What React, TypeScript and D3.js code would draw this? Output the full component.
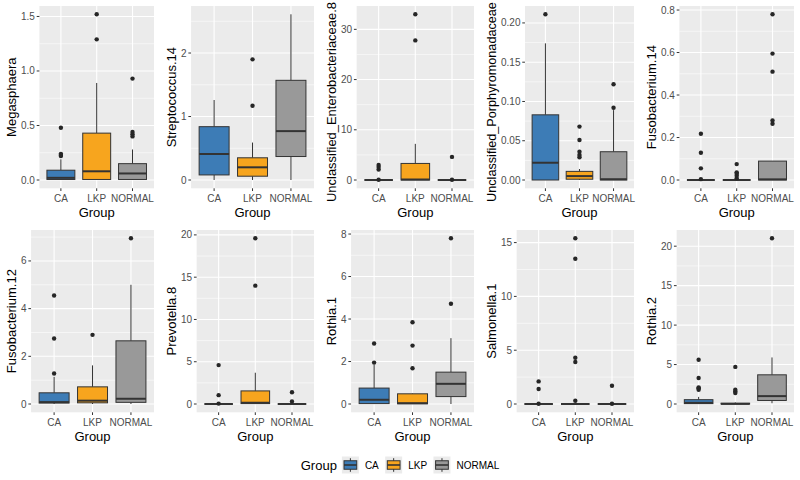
import * as d3 from "d3";

const groups = ["CA", "LKP", "NORMAL"];
const groupFills = ["#3D7CB6", "#F7A51E", "#999999"];

// each box: [lower whisker, q1, median, q3, upper whisker]
const megasphaeraBoxes = [
  [0, 0.005, 0.02, 0.09, 0.19],
  [0, 0.005, 0.08, 0.43, 0.89],
  [0, 0.005, 0.06, 0.15, 0.28],
];
const megasphaeraOutliers = [[0.22, 0.23, 0.24, 0.48], [1.29, 1.52], [0.4, 0.42, 0.44, 0.93]];
const megasphaeraTicks = ["0.0", "0.5", "1.0", "1.5"];

const streptococcusBoxes = [
  [0, 0.08, 0.41, 0.84, 1.26],
  [0, 0.06, 0.2, 0.35, 0.59],
  [0, 0.37, 0.77, 1.57, 2.61],
];
const streptococcusOutliers = [[], [1.17, 1.9], []];
const streptococcusTicks = ["0", "1", "2"];

const enterobacteriaceaeBoxes = [
  [0, 0, 0, 0, 0],
  [0, 0, 0.1, 3.3, 7.2],
  [0, 0, 0, 0, 0],
];
const enterobacteriaceaeOutliers = [[0.05, 2.1, 2.6, 3.0], [27.8, 33], [0.05, 4.6]];
const enterobacteriaceaeTicks = ["0", "10", "20", "30"];

const porphyromonadaceaeBoxes = [
  [0, 0, 0.022, 0.083, 0.174],
  [0, 0.001, 0.005, 0.011, 0.014],
  [0, 0, 0.001, 0.036, 0.089],
];
const porphyromonadaceaeOutliers = [[0.211], [0.029, 0.032, 0.036, 0.051, 0.068], [0.092, 0.122]];
const porphyromonadaceaeTicks = ["0.00", "0.05", "0.10", "0.15", "0.20"];

const fuso14Boxes = [
  [0, 0, 0, 0, 0],
  [0, 0, 0, 0, 0],
  [0, 0, 0.003, 0.089, 0.089],
];
const fuso14Outliers = [[0.004, 0.055, 0.128, 0.218], [0.008, 0.02, 0.03, 0.036, 0.075], [0.265, 0.28, 0.51, 0.595, 0.78]];
const fuso14Ticks = ["0.0", "0.2", "0.4", "0.6", "0.8"];

const fuso12Boxes = [
  [0, 0.04, 0.08, 0.47, 1.14],
  [0, 0.05, 0.14, 0.72, 1.62],
  [0, 0.07, 0.22, 2.65, 5.0],
];
const fuso12Outliers = [[1.28, 2.75, 4.55], [2.9], [6.95]];
const fuso12Ticks = ["0", "2", "4", "6"];

const prevotellaBoxes = [
  [0, 0, 0, 0, 0],
  [0, 0.05, 0.15, 1.55, 3.7],
  [0, 0, 0, 0, 0],
];
const prevotellaOutliers = [[0.05, 1.05, 4.6], [14, 19.6], [0.3, 1.4]];
const prevotellaTicks = ["0", "5", "10", "15", "20"];

const rothia1Boxes = [
  [0, 0.02, 0.2, 0.75, 1.85],
  [0, 0.01, 0.04, 0.48, 0.5],
  [0, 0.35, 0.95, 1.5, 3.1],
];
const rothia1Outliers = [[1.95, 2.85], [1.68, 2.75, 3.85], [4.72, 7.8]];
const rothia1Ticks = ["0", "2", "4", "6", "8"];

const salmonellaBoxes = [
  [0, 0, 0, 0, 0],
  [0, 0, 0, 0, 0],
  [0, 0, 0, 0, 0],
];
const salmonellaOutliers = [[0.02, 1.4, 2.1], [0.3, 3.9, 4.3, 13.5, 15.4], [0.02, 1.7]];
const salmonellaTicks = ["0", "5", "10", "15"];

const rothia2Boxes = [
  [0, 0.05, 0.15, 0.55, 0.9],
  [0, 0, 0.02, 0.1, 0.2],
  [0.1, 0.45, 1.0, 3.7, 5.9],
];
const rothia2Outliers = [[1.8, 2.0, 2.1, 3.3, 5.6], [1.4, 1.6, 1.8, 4.7], [21]];
const rothia2Ticks = ["0", "5", "10", "15", "20"];

const panels = [
  { title: "Megasphaera", boxes: megasphaeraBoxes, outliers: megasphaeraOutliers, ticks: megasphaeraTicks },
  { title: "Streptococcus.14", boxes: streptococcusBoxes, outliers: streptococcusOutliers, ticks: streptococcusTicks },
  { title: "Unclassified_Enterobacteriaceae.8", boxes: enterobacteriaceaeBoxes, outliers: enterobacteriaceaeOutliers, ticks: enterobacteriaceaeTicks },
  { title: "Unclassified_Porphyromonadaceae", boxes: porphyromonadaceaeBoxes, outliers: porphyromonadaceaeOutliers, ticks: porphyromonadaceaeTicks },
  { title: "Fusobacterium.14", boxes: fuso14Boxes, outliers: fuso14Outliers, ticks: fuso14Ticks },
  { title: "Fusobacterium.12", boxes: fuso12Boxes, outliers: fuso12Outliers, ticks: fuso12Ticks },
  { title: "Prevotella.8", boxes: prevotellaBoxes, outliers: prevotellaOutliers, ticks: prevotellaTicks },
  { title: "Rothia.1", boxes: rothia1Boxes, outliers: rothia1Outliers, ticks: rothia1Ticks },
  { title: "Salmonella.1", boxes: salmonellaBoxes, outliers: salmonellaOutliers, ticks: salmonellaTicks },
  { title: "Rothia.2", boxes: rothia2Boxes, outliers: rothia2Outliers, ticks: rothia2Ticks },
];

const FONT = "'Liberation Sans', Arial, Helvetica, sans-serif";
const W = 800;
const H = 480;
const cellW = 160;
const cellH = 224;

let ctx: CanvasRenderingContext2D | null = null;
function textWidth(s: string, size: number): number {
  if (!ctx) ctx = document.createElement("canvas").getContext("2d");
  if (!ctx) return s.length * size * 0.55;
  ctx.font = `${size}px ${FONT}`;
  return ctx.measureText(s).width;
}

function Panel({ p, index }: { p: (typeof panels)[number]; index: number }) {
  const col = index % 5;
  const row = Math.floor(index / 5);
  const cellX = col * cellW;
  const cellY = row * cellH;

  const labelW = d3.max(p.ticks, (t) => textWidth(t, 10)) ?? 10;
  const left = cellX + 20 + labelW + 5.5;
  const right = cellX + 154;
  const top = cellY + 6;
  const bottom = cellY + 188.3;

  const maxVal = d3.max([...p.boxes.flat(), ...p.outliers.flat()]) ?? 1;
  const y = d3
    .scaleLinear()
    .domain([-0.05 * maxVal, maxVal * 1.05])
    .range([bottom, top]);
  const x = d3.scaleLinear().domain([0.4, 3.6]).range([left, right]);

  const majors = p.ticks.map((t) => +t);
  const step = majors[1] - majors[0];
  const minors = d3
    .range(-1, majors.length)
    .map((i) => majors[0] + (i + 0.5) * step)
    .filter((v) => v > y.domain()[0] && v < y.domain()[1]);

  const halfBox = 0.39;

  // long titles: shrink a little so they stay inside the cell
  const maxTitle = 200;
  const rawTitleW = textWidth(p.title, 13);
  const titleSize = rawTitleW > maxTitle ? (13 * maxTitle) / rawTitleW : 13;
  const titleW = Math.min(rawTitleW, maxTitle);
  const titleCy = Math.max((top + bottom) / 2, cellY + 2 + titleW / 2);

  return (
    <g>
      <rect x={left} y={top} width={right - left} height={bottom - top} fill="#EBEBEB" />
      {minors.map((v) => (
        <line key={"mi" + v} x1={left} x2={right} y1={y(v)} y2={y(v)} stroke="#fff" strokeWidth={0.55} />
      ))}
      {majors.map((v) => (
        <line key={"ma" + v} x1={left} x2={right} y1={y(v)} y2={y(v)} stroke="#fff" strokeWidth={1.1} />
      ))}
      {groups.map((g, i) => (
        <line key={"gx" + g} x1={x(i + 1)} x2={x(i + 1)} y1={top} y2={bottom} stroke="#fff" strokeWidth={1.1} />
      ))}

      {p.boxes.map((b, i) => {
        const cx = x(i + 1);
        const [lo, q1, med, q3, hi] = b;
        return (
          <g key={"b" + i}>
            <line x1={cx} x2={cx} y1={y(q3)} y2={y(hi)} stroke="#333" strokeWidth={1} />
            <line x1={cx} x2={cx} y1={y(q1)} y2={y(lo)} stroke="#333" strokeWidth={1} />
            <rect
              x={x(i + 1 - halfBox)}
              y={y(q3)}
              width={x(i + 1 + halfBox) - x(i + 1 - halfBox)}
              height={Math.max(0, y(q1) - y(q3))}
              fill={groupFills[i]}
              stroke="#333"
              strokeWidth={1}
            />
            <line x1={x(i + 1 - halfBox)} x2={x(i + 1 + halfBox)} y1={y(med)} y2={y(med)} stroke="#333" strokeWidth={2} />
            {p.outliers[i].map((o, k) => (
              <circle key={k} cx={cx} cy={y(o)} r={2.2} fill="#262626" />
            ))}
          </g>
        );
      })}

      {majors.map((v, k) => (
        <g key={"yt" + v}>
          <line x1={left - 2.7} x2={left} y1={y(v)} y2={y(v)} stroke="#333" strokeWidth={1} />
          <text x={left - 4.5} y={y(v)} dy="0.35em" textAnchor="end" fontSize={10} fill="#4D4D4D" fontFamily={FONT}>
            {p.ticks[k]}
          </text>
        </g>
      ))}
      {groups.map((g, i) => (
        <g key={"xt" + g}>
          <line x1={x(i + 1)} x2={x(i + 1)} y1={bottom} y2={bottom + 2.7} stroke="#333" strokeWidth={1} />
          <text x={x(i + 1)} y={bottom + 13.2} textAnchor="middle" fontSize={10} fill="#4D4D4D" fontFamily={FONT}>
            {g}
          </text>
        </g>
      ))}
      <text
        x={(left + right) / 2}
        y={bottom + 28.3}
        textAnchor="middle"
        fontSize={13}
        fill="#000"
        fontFamily={FONT}
      >
        Group
      </text>
      <text
        transform={`translate(${left - labelW - 9.5},${titleCy}) rotate(-90)`}
        textAnchor="middle"
        fontSize={titleSize}
        fill="#000"
        fontFamily={FONT}
      >
        {p.title}
      </text>
    </g>
  );
}

function Legend() {
  const cy = 465;
  const key = 17;
  const titleW = textWidth("Group", 13);
  const labelWs = groups.map((g) => textWidth(g, 10));
  const total = titleW + 5 + d3.sum(labelWs) + groups.length * (key + 6) + (groups.length - 1) * 6.4;
  let cursor = W / 2 - total / 2;
  const titleX = cursor;
  cursor += titleW + 5;
  const items = groups.map((g, i) => {
    const kx = cursor;
    cursor += key + 6 + labelWs[i] + 6.4;
    return { g, kx, fill: groupFills[i] };
  });
  const ky = cy - key / 2;
  return (
    <g>
      <text x={titleX} y={cy} dy="0.35em" fontSize={13} fill="#000" fontFamily={FONT}>
        Group
      </text>
      {items.map((it) => (
        <g key={it.g}>
          <rect x={it.kx} y={ky} width={key} height={key} fill="#EBEBEB" />
          <line x1={it.kx + key / 2} x2={it.kx + key / 2} y1={ky + key * 0.1} y2={ky + key * 0.9} stroke="#333" strokeWidth={1} />
          <rect
            x={it.kx + key * 0.125}
            y={ky + key * 0.25}
            width={key * 0.75}
            height={key * 0.5}
            fill={it.fill}
            stroke="#333"
            strokeWidth={1}
          />
          <line x1={it.kx + key * 0.125} x2={it.kx + key * 0.875} y1={cy} y2={cy} stroke="#333" strokeWidth={1.6} />
          <text x={it.kx + key + 6} y={cy} dy="0.35em" fontSize={10} fill="#000" fontFamily={FONT}>
            {it.g}
          </text>
        </g>
      ))}
    </g>
  );
}

export default function App() {
  return (
    <div style={{ position: "fixed", left: 0, top: 0 }}>
      <svg width={W} height={H} style={{ display: "block", background: "#fff" }}>
        {panels.map((p, i) => (
          <Panel key={p.title} p={p} index={i} />
        ))}
        <Legend />
      </svg>
    </div>
  );
}
